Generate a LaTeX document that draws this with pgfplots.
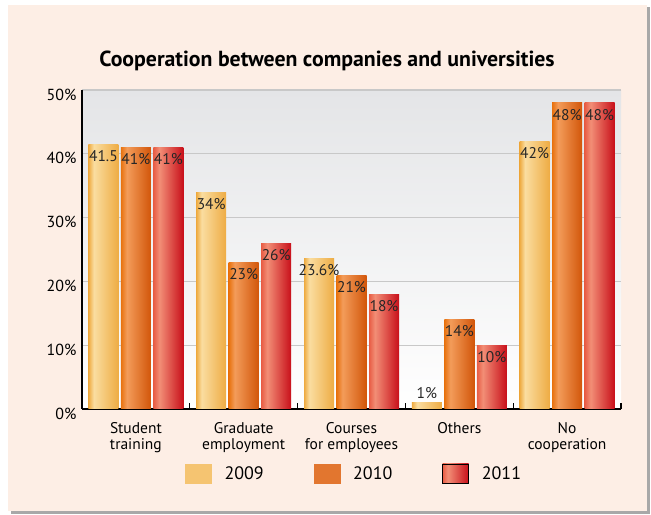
\documentclass[border=0pt]{standalone}
\usepackage{pgfplots}
\pgfplotsset{compat=1.18}
\usepackage{fontspec}
\setmainfont{PT Sans}

\definecolor{peach}{HTML}{FDEEE5}
\definecolor{shadowgray}{HTML}{A8A8A8}
\definecolor{gridgray}{HTML}{C8C8C8}
\definecolor{bgtop}{HTML}{E4E5E7}
\definecolor{ya}{HTML}{EEAA40}
\definecolor{yb}{HTML}{FADDA0}
\definecolor{yc}{HTML}{EEAC44}
\definecolor{oa}{HTML}{E8720E}
\definecolor{ob}{HTML}{F39C5A}
\definecolor{oc}{HTML}{D2560A}
\definecolor{ra}{HTML}{E85C44}
\definecolor{rb}{HTML}{F28E76}
\definecolor{rc}{HTML}{C80F1A}
\definecolor{leg2009}{HTML}{F5C471}
\definecolor{leg2010}{HTML}{E2762F}

\pgfdeclarehorizontalshading{sh2009}{100bp}{color(0bp)=(ya); color(25bp)=(ya); color(34bp)=(yb); color(75bp)=(yc); color(100bp)=(yc)}
\pgfdeclarehorizontalshading{sh2010}{100bp}{color(0bp)=(oa); color(25bp)=(oa); color(35bp)=(ob); color(75bp)=(oc); color(100bp)=(oc)}
\pgfdeclarehorizontalshading{sh2011}{100bp}{color(0bp)=(ra); color(25bp)=(ra); color(35bp)=(rb); color(75bp)=(rc); color(100bp)=(rc)}

% one bar: x, value, label, shift, shading
\newcommand{\onebar}[5]{\addplot[ybar, bar width=30bp, bar shift=#4, draw=none, shade, shading=#5, forget plot,
  every node near coord/.append style={xshift=#4}] coordinates {(#1,#2) [#3]};}
\newcommand{\abovelab}[1]{\raisebox{11bp}[0pt][0pt]{#1}}

\begin{document}
\begin{tikzpicture}
\path[use as bounding box] (0,0) rectangle (651bp,515bp);
\fill[white] (0,0) rectangle (651bp,515bp);
\fill[shadowgray] (11bp,1bp) rectangle (650bp,508bp);
\fill[peach] (8bp,4bp) rectangle (647bp,510bp);
\node[anchor=base, font=\fontsize{21.8bp}{26bp}\selectfont\bfseries] at (327bp,448bp) {Cooperation between companies and universities};
\begin{axis}[
  at={(82bp,106bp)}, anchor=south west,
  scale only axis, width=539bp, height=319bp,
  xmin=-0.5, xmax=4.5, ymin=0, ymax=50,
  axis x line*=bottom, axis y line*=left,
  axis line style={black, line width=1.6bp},
  axis background/.style={top color=bgtop, bottom color=white},
  xtick={0,1,2,3,4},
  xticklabels={{Student\\training},{Graduate\\employment},{Courses\\for employees},{Others},{No\\cooperation}},
  minor xtick={-0.5,0.5,1.5,2.5,3.5,4.5},
  tick align=inside,
  major x tick style={draw=none},
  minor x tick style={black, line width=1.2bp},
  minor tick length=6bp,
  ytick={0,10,20,30,40,50},
  ytick style={draw=none},
  ymajorgrids=true,
  major grid style={gridgray, line width=1.3bp},
  /pgf/number format/assume math mode=true,
  yticklabel={\pgfmathprintnumber{\tick}\%},
  yticklabel style={font=\fontsize{16bp}{18bp}\selectfont, yshift=-4.5bp, xshift=-2bp},
  xticklabel style={font=\fontsize{15.5bp}{16bp}\selectfont, align=center, yshift=-10bp},
  nodes near coords={\pgfplotspointmeta},
  point meta=explicit symbolic,
  every node near coord/.append style={font=\fontsize{15.5bp}{17bp}\selectfont, text=black!85, inner sep=0pt, anchor=north, yshift=-6bp},
  legend style={at={(0.191,-0.202)}, anchor=west, draw=none, fill=none, legend columns=3,
    inner sep=0pt, nodes={inner sep=0pt, font=\fontsize{18bp}{20bp}\selectfont},
    /tikz/every odd column/.append style={column sep=13bp},
    /tikz/every even column/.append style={column sep=50bp}},
]
% 2009
\onebar{0}{41.5}{41.5}{-32.5bp}{sh2009}
\onebar{1}{34}{34\%}{-32.5bp}{sh2009}
\onebar{2}{23.6}{23.6\%}{-32.5bp}{sh2009}
\onebar{3}{1}{\abovelab{1\%}}{-32.5bp}{sh2009}
\onebar{4}{42}{42\%}{-32.5bp}{sh2009}
% 2010
\onebar{0}{41}{41\%}{0bp}{sh2010}
\onebar{1}{23}{23\%}{0bp}{sh2010}
\onebar{2}{21}{21\%}{0bp}{sh2010}
\onebar{3}{14}{14\%}{0bp}{sh2010}
\onebar{4}{48}{48\%}{0bp}{sh2010}
% 2011
\onebar{0}{41}{41\%}{32.5bp}{sh2011}
\onebar{1}{26}{26\%}{32.5bp}{sh2011}
\onebar{2}{18}{18\%}{32.5bp}{sh2011}
\onebar{3}{10}{10\%}{32.5bp}{sh2011}
\onebar{4}{48}{48\%}{32.5bp}{sh2011}
\addlegendimage{legend image code/.code={\fill[leg2009] (0bp,-9.5bp) rectangle (26bp,9.5bp);}}
\addlegendentry{2009}
\addlegendimage{legend image code/.code={\fill[leg2010] (0bp,-9.5bp) rectangle (26bp,9.5bp);}}
\addlegendentry{2010}
\addlegendimage{legend image code/.code={\shade[shading=sh2011] (0bp,-9.5bp) rectangle (26bp,9.5bp);}}
\addlegendentry{2011}
\end{axis}
\end{tikzpicture}
\end{document}
